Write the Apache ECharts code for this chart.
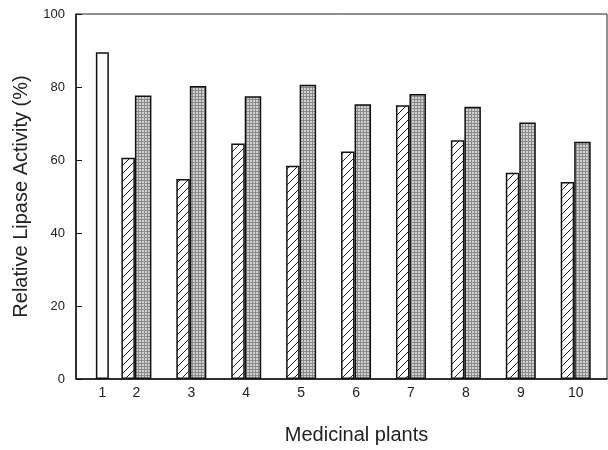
<!DOCTYPE html>
<html>
<head>
<meta charset="utf-8">
<script src="https://cdn.jsdelivr.net/npm/echarts@6/dist/echarts.min.js"></script>
<style>
html, body { margin: 0; padding: 0; background: #fff; }
#app { width: 608px; height: 450px; }
</style>
</head>
<body>
<div id="app"></div>
<script>
// plant 1 is the single control bar, plants 2-10 have two bars each
const plantPos = [1.38, 2, 3, 4, 5, 6, 7, 8, 9, 10];
const plantLabels = ['1', '2', '3', '4', '5', '6', '7', '8', '9', '10'];
const controlValue = 89.5;
const hatchedValues = [60.6, 54.8, 64.5, 58.4, 62.3, 75.0, 65.4, 56.5, 54.0];
const grayValues = [77.7, 80.3, 77.5, 80.6, 75.3, 78.1, 74.6, 70.3, 65.0];

const font = 'Liberation Sans, Arial, sans-serif';

// fill patterns for the bars
function hatchTile() {
	let c = document.createElement('canvas');
	c.width = 8; c.height = 8;
	let g = c.getContext('2d');
	g.fillStyle = '#fff';
	g.fillRect(0, 0, 8, 8);
	g.strokeStyle = '#222';
	g.lineWidth = 1;
	g.beginPath();
	g.moveTo(0, 8); g.lineTo(8, 0);
	g.moveTo(-1, 1); g.lineTo(1, -1);
	g.moveTo(7, 9); g.lineTo(9, 7);
	g.stroke();
	return c;
}
function grayTile() {
	let c = document.createElement('canvas');
	c.width = 3; c.height = 3;
	let g = c.getContext('2d');
	g.fillStyle = '#d2d2d2';
	g.fillRect(0, 0, 3, 3);
	g.fillStyle = '#8a8a8a';
	g.fillRect(0, 0, 3, 1);
	g.fillRect(0, 0, 1, 3);
	return c;
}

const pairX = plantPos.slice(1);
const hatchedData = pairX.map((x, i) => [x, hatchedValues[i]]);
const grayData = pairX.map((x, i) => [x, grayValues[i]]);

let chart = echarts.init(document.getElementById('app'));
let option = {
	backgroundColor: '#fff',
	animation: false,
	grid: {
		left: 76, right: 1, top: 14, bottom: 68,
		show: true,
		borderColor: '#222',
		borderWidth: 1
	},
	xAxis: [{
		type: 'value',
		min: 0.9,
		max: 10.57,
		name: 'Medicinal plants',
		nameLocation: 'middle',
		nameGap: 46,
		nameTextStyle: { fontFamily: font, fontSize: 20, color: '#222', padding: [0, 0, 0, 30] },
		axisLine: { show: true, lineStyle: { color: '#111', width: 1.5 } },
		axisTick: { show: false },
		splitLine: { show: false },
		axisLabel: {
			customValues: plantPos,
			formatter: v => plantLabels[Math.round(v) - 1],
			fontFamily: font,
			fontSize: 14,
			color: '#222',
			margin: 7
		}
	}, {
		type: 'value',
		min: 0.9,
		max: 10.57,
		show: false
	}],
	yAxis: {
		type: 'value',
		min: 0,
		max: 100,
		interval: 20,
		name: 'Relative Lipase Activity (%)',
		nameLocation: 'middle',
		nameGap: 45,
		nameTextStyle: { fontFamily: font, fontSize: 20, color: '#222' },
		axisLine: { show: true, lineStyle: { color: '#111', width: 1.5 } },
		axisTick: { show: true, inside: true, length: 6, lineStyle: { color: '#111' } },
		splitLine: { show: false },
		axisLabel: { fontFamily: font, fontSize: 13, color: '#222', margin: 11 }
	},
	series: [{
		name: 'hatched',
		type: 'bar',
		xAxisIndex: 0,
		barWidth: 13.5,
		barGap: '0%',
		itemStyle: { color: { image: hatchTile(), repeat: 'repeat' }, borderColor: '#111', borderWidth: 1.5 },
		data: hatchedData
	}, {
		name: 'gray',
		type: 'bar',
		xAxisIndex: 0,
		barWidth: 16.5,
		barGap: '0%',
		itemStyle: { color: { image: grayTile(), repeat: 'repeat' }, borderColor: '#111', borderWidth: 1.5 },
		data: grayData
	}, {
		name: 'control',
		type: 'bar',
		xAxisIndex: 1,
		barWidth: 13,
		itemStyle: { color: '#fff', borderColor: '#111', borderWidth: 1.5 },
		data: [[plantPos[0], controlValue]]
	}]
};
chart.setOption(option);
</script>
</body>
</html>
